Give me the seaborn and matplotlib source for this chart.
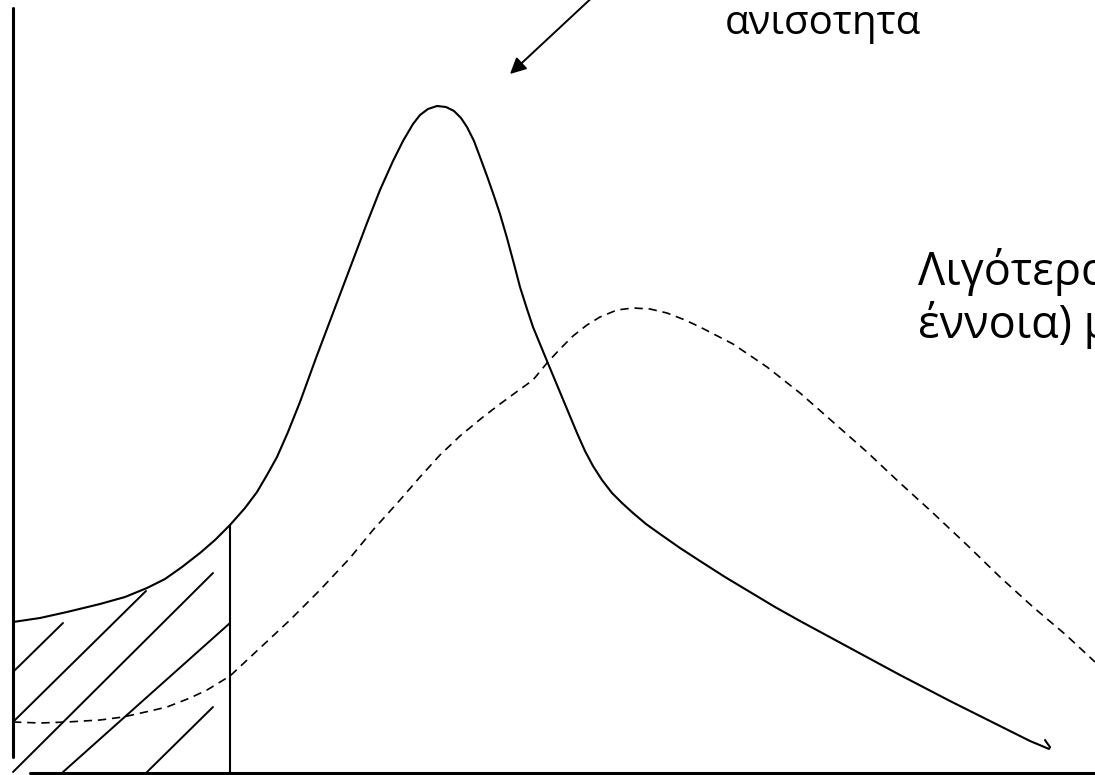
"""
Sketch of two income distributions (solid: peaked, dashed: flatter),
with the poor tail hatched on the left.
"""

import pandas as pd
import matplotlib.pyplot as plt
import seaborn as sns

# solid curve (x, y in picture units, y grows downwards)
solid_x = [13, 40, 67, 100, 125, 147, 165, 182, 200, 215, 230, 245, 257, 267, 277,
           288, 300, 316, 333, 350, 367, 380, 393, 403, 413, 420, 428, 437, 446,
           454, 461, 467, 474, 480, 487, 494, 500, 507, 514, 520, 527, 533, 540,
           547, 557, 567, 577, 585, 593, 602, 612, 622, 633, 646, 660, 680, 700,
           725, 750, 775, 800, 850, 900, 950, 1000, 1030, 1042, 1049, 1050, 1047, 1045]
solid_y = [622, 618, 612, 604, 597, 588, 579, 567, 553, 540, 525, 508, 492, 475, 457,
           432, 402, 358, 313, 268, 223, 190, 161, 141, 124, 115, 109, 106, 107,
           111, 118, 127, 141, 157, 176, 196, 214, 238, 264, 287, 309, 327, 344,
           361, 385, 409, 433, 451, 466, 480, 493, 503, 513, 524, 534, 548, 561,
           577, 592, 607, 621, 648, 675, 701, 726, 741, 746, 749, 747, 743, 740]

# dashed curve
dashed_x = [13, 40, 67, 100, 123, 150, 167, 190, 207, 230, 260, 290, 320, 350, 373,
            400, 420, 440, 460, 483, 500, 515, 533, 547, 560, 573, 587, 600, 617,
            633, 650, 667, 685, 700, 733, 767, 800, 833, 867, 900, 933, 967, 1000,
            1033, 1066, 1095]
dashed_y = [722, 723, 722, 720, 717, 711, 707, 698, 690, 676, 648, 620, 590, 558, 530,
            500, 477, 455, 436, 417, 404, 393, 380, 363, 349, 336, 325, 317, 310,
            308, 309, 313, 320, 327, 344, 367, 393, 422, 452, 483, 513, 545, 577,
            607, 635, 662]

# hatching of the poor tail (start and end of each stroke)
hatch_x0 = [13, 13, 13, 63, 147]
hatch_y0 = [672, 722, 772, 772, 772]
hatch_x1 = [63, 146, 213, 230, 213]
hatch_y1 = [623, 591, 573, 623, 707]

# cut-off line of the tail and the two axes
cut_x = [230, 230]
cut_y = [525, 773]
yaxis_x = [13, 13]
yaxis_y = [8, 757]
xaxis_x = [30, 1095]
xaxis_y = [773, 773]

labels = ['ανισοτητα', 'Λιγότερα', 'έννοια) μ']

sns.set_style("white")
plt.rcParams['font.family'] = ['Open Sans', 'DejaVu Sans']

fig = plt.figure(figsize=(10.95, 7.75), dpi=100)
ax = fig.add_axes([0, 0, 1, 1])

solid = pd.DataFrame({'x': solid_x, 'y': solid_y})
dashed = pd.DataFrame({'x': dashed_x, 'y': dashed_y})

sns.lineplot(data=solid, x='x', y='y', sort=False, estimator=None,
             color='black', linewidth=1.5, solid_joinstyle='round', ax=ax)
sns.lineplot(data=dashed, x='x', y='y', sort=False, estimator=None,
             color='black', linewidth=1.2, linestyle=(0, (5, 3.5)), ax=ax)

for x0, y0, x1, y1 in zip(hatch_x0, hatch_y0, hatch_x1, hatch_y1):
    ax.plot([x0, x1], [y0, y1], color='black', linewidth=1.4)

ax.plot(cut_x, cut_y, color='black', linewidth=1.5)
ax.plot(yaxis_x, yaxis_y, color='black', linewidth=2.2)
ax.plot(xaxis_x, xaxis_y, color='black', linewidth=2.2)

# arrow pointing at the peaked curve
ax.annotate('', xy=(510, 74), xytext=(598, -8),
            arrowprops=dict(arrowstyle='-|>', color='black', lw=1.4,
                            mutation_scale=24, shrinkA=0, shrinkB=0))

ax.text(725, 34, labels[0], fontsize=29, color='black', va='baseline', ha='left')
ax.text(918, 285, labels[1], fontsize=32.5, color='black', va='baseline', ha='left')
ax.text(918, 338, labels[2], fontsize=32.5, color='black', va='baseline', ha='left')

ax.set_xlim(0, 1095)
ax.set_ylim(775, 0)
ax.axis('off')

plt.savefig('out.png', dpi=100)
plt.close()
